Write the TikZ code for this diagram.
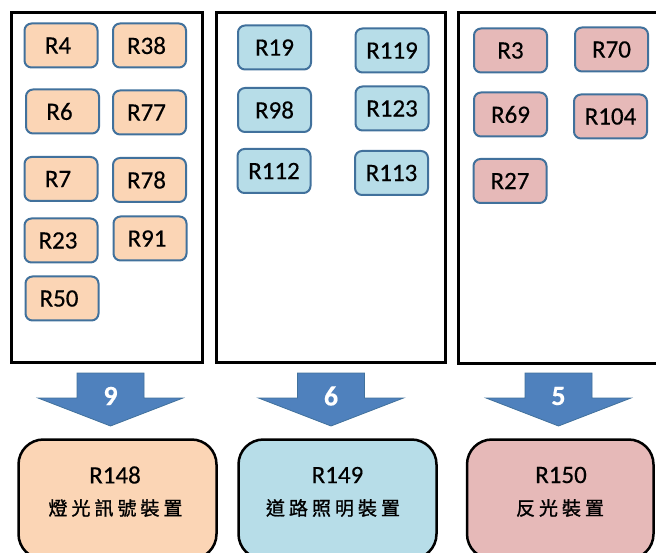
\documentclass[tikz,border=0pt]{standalone}
\usepackage{fontspec}
\setmainfont{Carlito}[FakeBold=0.4]
\newfontfamily\cjkfont{Noto Sans CJK TC}[FakeBold=1.2]
\definecolor{peach}{HTML}{FBD5B5}
\definecolor{skyfill}{HTML}{B7DDE8}
\definecolor{rosefill}{HTML}{E6B9B8}
\definecolor{edgeblue}{HTML}{41719C}
\definecolor{arrowblue}{HTML}{4F81BD}
% set each CJK character in a fixed-pitch cell
\def\spreadchars#1{\ifx#1\relax\else\makebox[23pt]{#1}\expandafter\spreadchars\fi}
\begin{document}
\begin{tikzpicture}[x=1pt,y=-1pt,
  panel/.style={draw=black, line width=3pt, inner sep=0pt},
  rbox/.style={draw=edgeblue, line width=2pt, rounded corners=7pt,
    minimum width=73pt, minimum height=44pt, inner sep=0pt,
    font=\fontsize{25}{30}\selectfont},
  lefttext/.style={execute at begin node=\hspace*{-6pt}},
  bigbox/.style={draw=black, line width=2.5pt, rounded corners=25pt, inner sep=0pt},
  blockarr/.style={fill=arrowblue, draw=edgeblue, line width=0.8pt, line join=miter},
  num/.style={text=white, font=\fontsize{28}{32}\selectfont\bfseries},
  code/.style={font=\fontsize{25}{30}\selectfont, inner sep=0pt},
  cjk/.style={font=\cjkfont\fontsize{19}{22}\selectfont, inner sep=0pt}]
\useasboundingbox (0,0) rectangle (656,553);
\clip (0,0) rectangle (656,553);

% three group frames
\node[panel, minimum width=190.5pt, minimum height=350pt] (p1) at (106.75,187.5) {};
\node[panel, minimum width=229pt, minimum height=349pt] (p2) at (331,187.5) {};
\node[panel, minimum width=241.5pt, minimum height=350pt] (p3) at (579.25,188) {};

% group 1
\begin{scope}[every node/.style={rbox, fill=peach, lefttext}]
\node (r4)  at (61,45.5) {R4};
\node (r38) at (149.5,45.5) {R38};
\node (r6)  at (62.5,111.5) {R6};
\node (r77) at (149.5,112.5) {R77};
\node (r7)  at (61,179) {R7};
\node (r78) at (149.5,180) {R78};
\node (r23) at (61,240.5) {R23};
\node (r91) at (150,238.5) {R91};
\node (r50) at (62,298.5) {R50};
\end{scope}

% group 2
\begin{scope}[every node/.style={rbox, fill=skyfill}]
\node (r19)  at (274.5,47.5) {R19};
\node (r119) at (392,50.5) {R119};
\node (r98)  at (274.5,110) {R98};
\node (r123) at (392,108.5) {R123};
\node (r112) at (274,171) {R112};
\node (r113) at (391.5,173) {R113};
\end{scope}

% group 3
\begin{scope}[every node/.style={rbox, fill=rosefill}]
\node (r3)   at (510.5,50.5) {R3};
\node (r70)  at (611.5,49.5) {R70};
\node (r69)  at (510.5,114.5) {R69};
\node (r104) at (610.5,116.5) {R104};
\node (r27)  at (510,181) {R27};
\end{scope}

% block arrows with counts
\coordinate (a1) at (110.5,373);
\coordinate (a2) at (331,373);
\coordinate (a3) at (558.5,373);
\foreach \a/\n in {a1/9, a2/6, a3/5}{
  \draw[blockarr, shift={(\a)}] (-33.5,0) -- (33.5,0) -- (33.5,25) -- (72.5,25)
     -- (0,53) -- (-72.5,25) -- (-33.5,25) -- cycle;
  \node[num] (n\a) at ([yshift=-23pt]\a) {\n};
}

% target regulations
\node[bigbox, fill=peach, minimum width=198pt, minimum height=119.5pt] (b1) at (117.5,499.25) {};
\node[bigbox, fill=skyfill, minimum width=198pt, minimum height=119.5pt] (b2) at (337.5,499.25) {};
\node[bigbox, fill=rosefill, minimum width=186.5pt, minimum height=119.5pt] (b3) at (560.25,499.25) {};

\node[code] (t1) at (115,475) {R148};
\node[cjk]  (c1) at (115.5,508) {\spreadchars 燈光訊號裝置\relax};
\node[code] (t2) at (337.5,475) {R149};
\node[cjk]  (c2) at (333,508) {\spreadchars 道路照明裝置\relax};
\node[code] (t3) at (561,475) {R150};
\node[cjk]  (c3) at (560,508) {\spreadchars 反光裝置\relax};
\end{tikzpicture}
\end{document}
